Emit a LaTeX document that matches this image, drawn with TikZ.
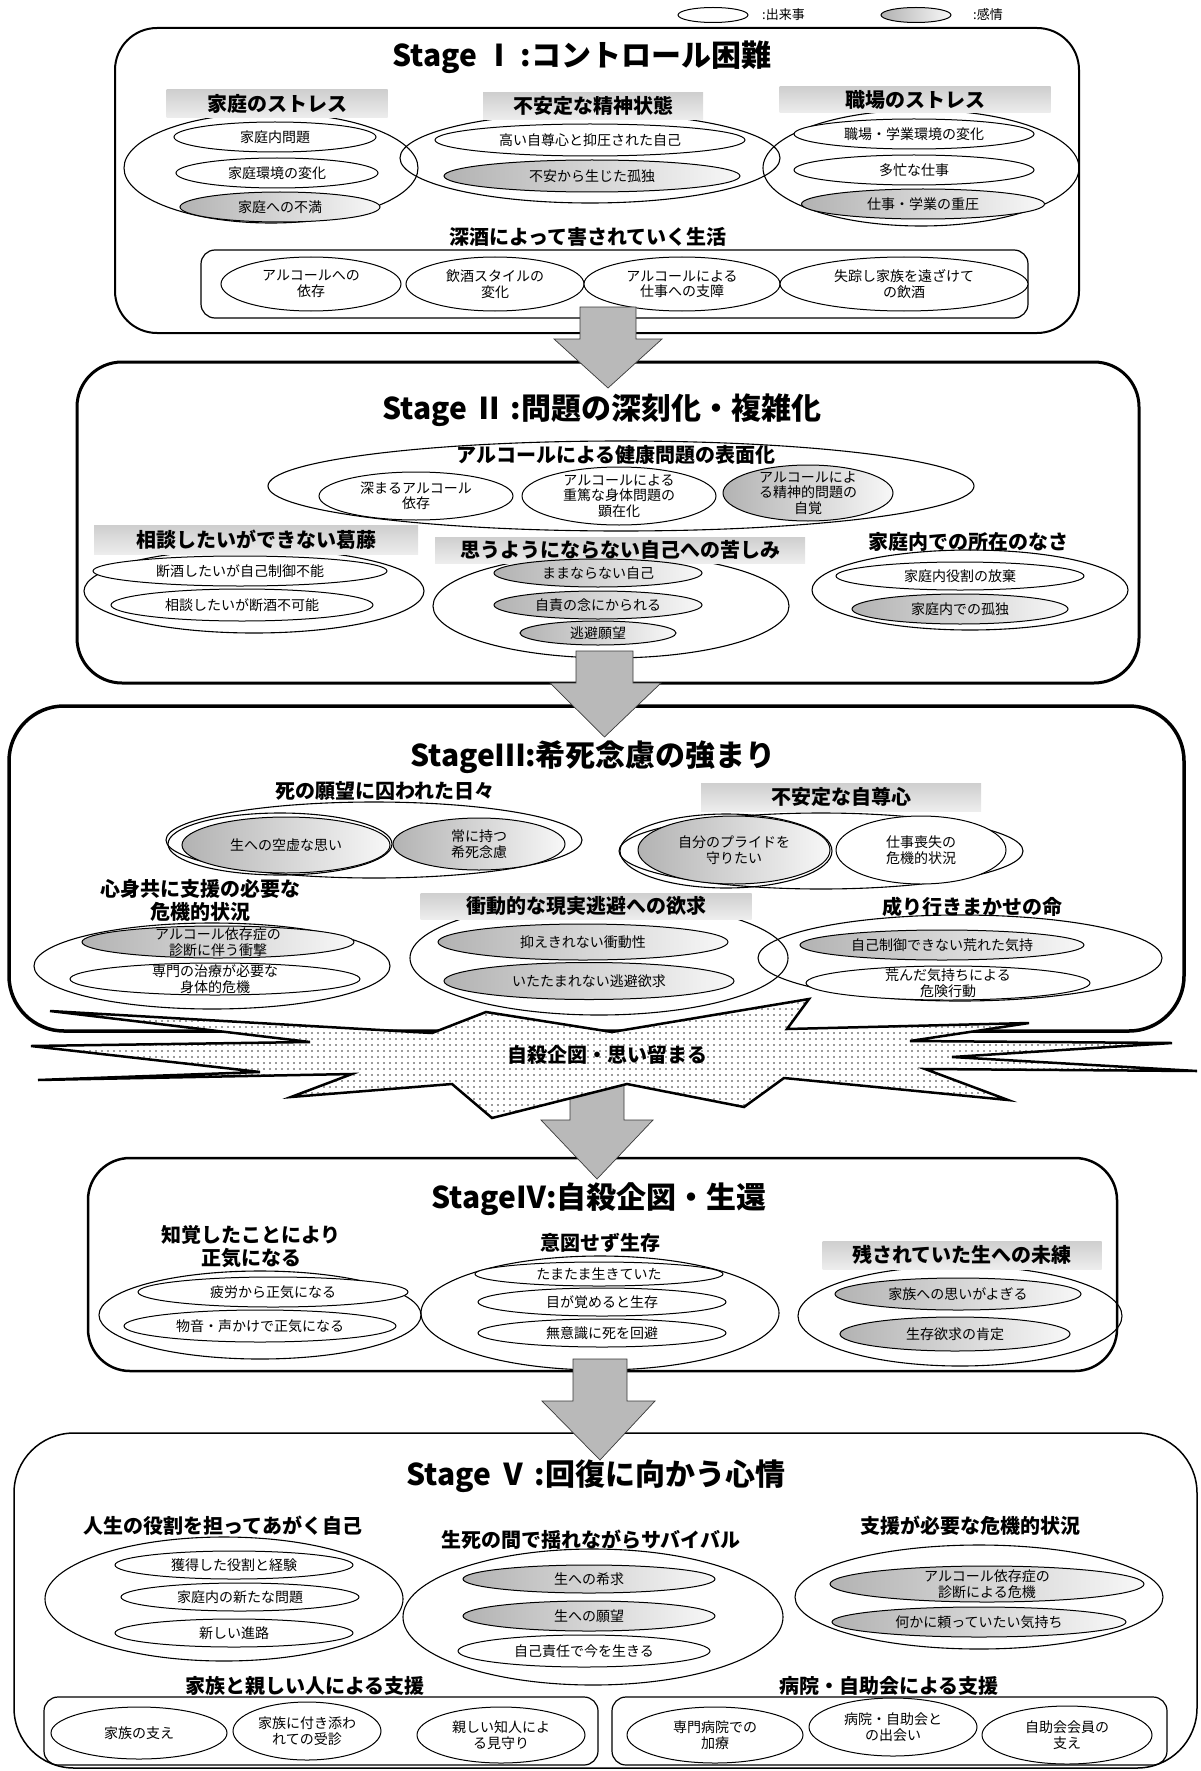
\documentclass[tikz,border=0pt]{standalone}
\usepackage{fontspec}
\setmainfont{Noto Sans CJK JP}
\usetikzlibrary{shapes.geometric,patterns.meta}
\tikzset{
 ev/.style={ellipse, draw, line width=1pt, fill=white, inner sep=0pt},
 emo/.style={ellipse, draw, line width=1pt, left color=gray!60, right color=gray!6, inner sep=0pt},
 grp/.style={ellipse, draw, line width=1.1pt, inner sep=0pt},
 lbl/.style={align=center, inner sep=0pt, font=\fontsize{14}{15.5}\selectfont},
 hdr/.style={inner sep=0pt, top color=gray!38, bottom color=gray!14, font=\bfseries\fontsize{20}{22}\selectfont},
 sub/.style={align=center, inner sep=0pt, font=\bfseries\fontsize{20}{23}\selectfont},
 ttl/.style={inner sep=0pt, font=\bfseries\fontsize{30}{32}\selectfont},
 garrow/.style={fill=gray!55, draw=gray!45!black, line width=0.7pt, line join=miter},
 inbox/.style={draw, line width=1.2pt, rounded corners=14pt},
 legtxt/.style={anchor=west, inner sep=0pt, font=\fontsize{13}{15}\selectfont},
}
\newcommand\Ell[7]{\node[#2, minimum width=#5pt, minimum height=#6pt] (#1) at (#3,#4) {}; \node[lbl] (#1t) at (#1.center) {#7};}
\newcommand\Grp[5]{\node[grp, minimum width=#4pt, minimum height=#5pt] (#1) at (#2,#3) {};}
\newcommand\Hdr[6]{\node[hdr, minimum width=#4pt, minimum height=#5pt] (#1) at (#2,#3) {#6};}
\newcommand\GArrow[7]{\draw[garrow] (#1,#3) -- (#2,#3) -- (#2,#4) -- (#6,#4) -- ({(#1+#2)/2},#7) -- (#5,#4) -- (#1,#4) -- cycle;}
\begin{document}
\begin{tikzpicture}[x=1pt,y=-1pt]
\useasboundingbox (0,0) rectangle (1200,1771);
% legend
\node[ev, minimum width=70pt, minimum height=15pt] (legA) at (713,15) {};
\node[legtxt] (legAt) at (762,15) {:出来事};
\node[emo, minimum width=70pt, minimum height=15pt] (legB) at (916,15) {};
\node[legtxt] (legBt) at (973,15) {:感情};

% ===== Stage I
\draw[line width=2pt, rounded corners=42pt] (115,28) rectangle (1079,333);
\node[ttl] (t1) at (582,57) {Stage Ⅰ :コントロール困難};
\Grp{g1a}{271}{168}{294}{110}
\Grp{g1b}{590}{158}{380}{90}
\Grp{g1c}{921}{168}{316}{116}
\Hdr{h1a}{277}{104}{221}{28}{家庭のストレス}
\Hdr{h1b}{593}{106}{220}{27}{不安定な精神状態}
\Hdr{h1c}{915}{100}{271}{26}{職場のストレス}
\Ell{e1a}{ev}{275}{137}{202}{30}{家庭内問題}
\Ell{e1b}{ev}{277}{173}{202}{30}{家庭環境の変化}
\Ell{e1c}{emo}{280}{207}{200}{30}{家庭への不満}
\Ell{e1d}{ev}{590}{140}{310}{32}{高い自尊心と抑圧された自己}
\Ell{e1e}{emo}{592}{176}{296}{32}{不安から生じた孤独}
\Ell{e1f}{ev}{914}{134}{240}{30}{職場・学業環境の変化}
\Ell{e1g}{ev}{914}{170}{240}{30}{多忙な仕事}
\Ell{e1h}{emo}{923}{204}{243}{30}{仕事・学業の重圧}
\node[sub] (s1) at (588,237) {深酒によって害されていく生活};
\draw[inbox] (201,250) rectangle (1028,318);
\Ell{e1i}{ev}{311}{284}{180}{54}{アルコールへの\\依存}
\Ell{e1j}{ev}{495}{284}{178}{54}{飲酒スタイルの\\変化}
\Ell{e1k}{ev}{682}{284}{196}{54}{アルコールによる\\仕事への支障}
\Ell{e1l}{ev}{904}{284}{248}{54}{失踪し家族を遠ざけて\\の飲酒}

% ===== Stage II
\draw[line width=3pt, rounded corners=45pt] (77,362) rectangle (1139,683);
\node[ttl] (t2) at (602,410) {Stage Ⅱ :問題の深刻化・複雑化};
\Grp{g2big}{621}{486}{706}{90}
\node[sub] (s2) at (616,455) {アルコールによる健康問題の表面化};
\Ell{e2a}{ev}{416}{496}{194}{48}{深まるアルコール\\依存}
\Ell{e2b}{ev}{619}{496}{194}{58}{アルコールによる\\重篤な身体問題の\\顕在化}
\Ell{e2c}{emo}{808}{493}{170}{56}{アルコールによ\\る精神的問題の\\自覚}
\Grp{g2a}{254}{591}{340}{84}
\Grp{g2b}{611}{606}{356}{104}
\Grp{g2c}{970}{590}{316}{80}
\Hdr{h2a}{256}{540}{324}{29}{相談したいができない葛藤}
\Hdr{h2b}{620}{550}{370}{26}{思うようにならない自己への苦しみ}
\node[sub] (s2c) at (968,542) {家庭内での所在のなさ};
\Ell{e2d}{ev}{240}{571}{294}{30}{断酒したいが自己制御不能}
\Ell{e2e}{ev}{242}{605}{262}{32}{相談したいが断酒不可能}
\Ell{e2f}{emo}{598}{573}{208}{28}{ままならない自己}
\Ell{e2g}{emo}{598}{605}{208}{28}{自責の念にかられる}
\Ell{e2h}{emo}{598}{633}{156}{24}{逃避願望}
\Ell{e2i}{ev}{960}{576}{248}{28}{家庭内役割の放棄}
\Ell{e2j}{emo}{960}{609}{216}{30}{家庭内での孤独}
\GArrow{580}{636}{307}{339}{554}{662}{388}

% ===== Stage III
\draw[line width=3.5pt, rounded corners=55pt] (9,706) rectangle (1184,1031);
\GArrow{576}{633}{651}{683}{550}{661}{737}
\node[ttl] (t3) at (593,757) {StageⅢ:希死念慮の強まり};
\node[sub] (s3a) at (385,791) {死の願望に囚われた日々};
\Grp{g3a}{374}{840}{416}{76}
\Grp{r3a}{280}{844}{224}{62}
\Ell{e3a}{emo}{286}{845}{208}{56}{生への空虚な思い}
\Ell{e3b}{emo}{479}{844}{172}{52}{常に持つ\\希死念慮}
\Grp{g3b}{821}{851}{404}{76}
\Hdr{h3b}{841}{797}{280}{28}{不安定な自尊心}
\Grp{r3b}{726}{851}{212}{74}
\Ell{e3c}{emo}{734}{850}{192}{68}{自分のプライドを\\守りたい}
\Ell{e3d}{ev}{921}{850}{170}{68}{仕事喪失の\\危機的状況}
\node[sub] (s3c) at (200,900) {心身共に支援の必要な\\危機的状況};
\Grp{g3c}{212}{966}{356}{86}
\Ell{e3e}{emo}{218}{942}{272}{32}{アルコール依存症の\\診断に伴う衝撃}
\Ell{e3f}{ev}{215}{979}{290}{32}{専門の治療が必要な\\身体的危機}
\Grp{g3d}{599}{958}{378}{114}
\Hdr{h3d}{586}{906}{331}{26}{衝動的な現実逃避への欲求}
\Ell{e3g}{emo}{583}{942}{290}{36}{抑えきれない衝動性}
\Ell{e3h}{emo}{589}{981}{290}{37}{いたたまれない逃避欲求}
\node[sub] (s3e) at (972,907) {成り行きまかせの命};
\Grp{g3e}{960}{958}{404}{86}
\Ell{e3i}{emo}{942}{945}{284}{30}{自己制御できない荒れた気持}
\Ell{e3j}{ev}{948}{983}{284}{34}{荒んだ気持ちによる\\危険行動}

% ===== Stage IV box (before arrow 3)
\draw[line width=2.5pt, rounded corners=42pt] (88,1158) rectangle (1117,1371);
% arrow 3 (behind burst)
\GArrow{570}{624}{1085}{1120}{541}{653}{1179}
% burst
\path[draw, line width=2.5pt, line join=miter, preaction={fill=white},
  pattern={Dots[distance=6pt, radius=0.8pt]}, pattern color=gray!40!black]
 (50,1011) -- (432,1033) -- (486,1012) -- (612,1032) -- (809,999) -- (787,1029)
 -- (1029,1023) -- (910,1041) -- (1172,1043) -- (952,1057) -- (1197,1071)
 -- (925,1069) -- (1008,1100) -- (784,1078) -- (744,1107) -- (627,1084)
 -- (492,1118) -- (452,1084) -- (291,1097) -- (352,1074) -- (38,1080)
 -- (260,1072) -- (31,1046) -- (310,1042) -- cycle;
\node[sub] (burst) at (607,1055) {自殺企図・思い留まる};

% ===== Stage IV content
\node[ttl] (t4) at (599,1199) {StageⅣ:自殺企図・生還};
\node[sub] (s4a) at (251,1247) {知覚したことにより\\正気になる};
\Grp{g4a}{260}{1315}{322}{88}
\Ell{e4a}{ev}{273}{1292}{270}{30}{疲労から正気になる}
\Ell{e4b}{ev}{260}{1326}{272}{32}{物音・声かけで正気になる}
\node[sub] (s4b) at (600,1243) {意図せず生存};
\Grp{g4b}{600}{1313}{358}{114}
\Ell{e4c}{ev}{599}{1274}{248}{24}{たまたま生きていた}
\Ell{e4d}{ev}{602}{1302}{248}{28}{目が覚めると生存}
\Ell{e4e}{ev}{602}{1333}{248}{28}{無意識に死を回避}
\Grp{g4c}{960}{1316}{324}{100}
\Hdr{h4c}{962}{1255}{279}{28}{残されていた生への未練}
\Ell{e4f}{emo}{958}{1294}{246}{32}{家族への思いがよぎる}
\Ell{e4g}{emo}{955}{1334}{230}{34}{生存欲求の肯定}

% ===== Stage V
\draw[line width=1.5pt, rounded corners=60pt] (14,1433) rectangle (1197,1768);
\GArrow{573}{627}{1359}{1401}{542}{655}{1460}
\node[ttl] (t5) at (596,1476) {Stage Ⅴ :回復に向かう心情};
\node[sub] (s5a) at (223,1526) {人生の役割を担ってあがく自己};
\Grp{g5a}{224}{1599}{358}{124}
\Ell{e5a}{ev}{234}{1565}{238}{28}{獲得した役割と経験}
\Ell{e5b}{ev}{240}{1597}{238}{28}{家庭内の新たな問題}
\Ell{e5c}{ev}{234}{1633}{238}{28}{新しい進路}
\node[sub] (s5b) at (591,1540) {生死の間で揺れながらサバイバル};
\Grp{g5b}{593}{1617}{380}{136}
\Ell{e5d}{emo}{589}{1579}{252}{28}{生への希求}
\Ell{e5e}{emo}{589}{1616}{252}{30}{生への願望}
\Ell{e5f}{ev}{584}{1651}{252}{32}{自己責任で今を生きる}
\node[sub] (s5c) at (970,1526) {支援が必要な危機的状況};
\Grp{g5c}{979}{1597}{368}{104}
\Ell{e5g}{emo}{987}{1584}{314}{36}{アルコール依存症の\\診断による危機}
\Ell{e5h}{emo}{979}{1622}{294}{30}{何かに頼っていたい気持ち}
\node[sub] (s5d) at (305,1686) {家族と親しい人による支援};
\node[sub] (s5e) at (889,1686) {病院・自助会による支援};
\draw[inbox] (44,1697) rectangle (598,1765);
\draw[inbox] (612,1697) rectangle (1167,1765);
\Ell{e5i}{ev}{139}{1733}{176}{52}{家族の支え}
\Ell{e5j}{ev}{307}{1731}{148}{58}{家族に付き添わ\\れての受診}
\Ell{e5k}{ev}{501}{1735}{168}{56}{親しい知人によ\\る見守り}
\Ell{e5l}{ev}{715}{1735}{176}{56}{専門病院での\\加療}
\Ell{e5m}{ev}{893}{1727}{168}{58}{病院・自助会と\\の出会い}
\Ell{e5n}{ev}{1067}{1735}{170}{58}{自助会会員の\\支え}
\end{tikzpicture}
\end{document}
